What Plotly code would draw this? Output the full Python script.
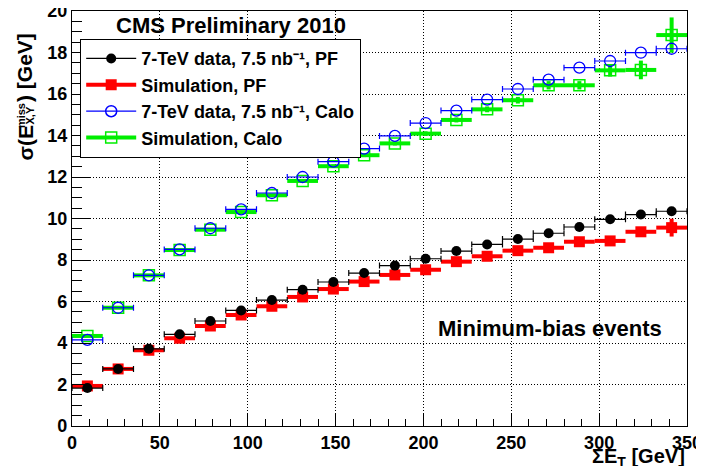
import plotly.graph_objects as go

# bin centres (GeV), bin half-width
sum_et = [8.75, 26.25, 43.75, 61.25, 78.75, 96.25, 113.75, 131.25, 148.75, 166.25,
          183.75, 201.25, 218.75, 236.25, 253.75, 271.25, 288.75, 306.25, 323.75, 341.25]
half_width = [8.75] * 20

pf_data = [1.83, 2.75, 3.72, 4.42, 5.06, 5.57, 6.07, 6.57, 6.94, 7.37,
           7.73, 8.06, 8.43, 8.75, 9.01, 9.29, 9.59, 9.96, 10.19, 10.35]
pf_sim = [1.93, 2.75, 3.65, 4.23, 4.82, 5.35, 5.77, 6.22, 6.60, 6.96,
          7.28, 7.53, 7.92, 8.18, 8.45, 8.59, 8.88, 8.92, 9.36, 9.56]
pf_sim_err = [0.05, 0.05, 0.05, 0.05, 0.05, 0.05, 0.05, 0.05, 0.05, 0.05,
              0.05, 0.05, 0.06, 0.07, 0.08, 0.09, 0.10, 0.12, 0.15, 0.43]
calo_data = [4.15, 5.70, 7.26, 8.51, 9.53, 10.44, 11.23, 12.00, 12.74, 13.37,
             13.98, 14.60, 15.20, 15.73, 16.24, 16.69, 17.27, 17.59, 17.99, 18.18]
calo_sim = [4.34, 5.70, 7.26, 8.48, 9.46, 10.31, 11.12, 11.81, 12.52, 13.05,
            13.62, 14.09, 14.75, 15.26, 15.70, 16.42, 16.42, 17.14, 17.16, 18.84]
calo_sim_err = [0.05, 0.05, 0.05, 0.05, 0.05, 0.06, 0.06, 0.07, 0.08, 0.09,
                0.10, 0.11, 0.12, 0.14, 0.16, 0.2, 0.2, 0.3, 0.45, 0.85]

names = ["7-TeV data, 7.5 nb⁻¹, PF", "Simulation, PF",
         "7-TeV data, 7.5 nb⁻¹, Calo", "Simulation, Calo"]

FONT = "Liberation Sans, Arial, sans-serif"
fig = go.Figure()

# data traces (drawing order: green, blue, red, black)
fig.add_trace(go.Scatter(
    x=sum_et, y=calo_sim, mode="markers", showlegend=False,
    marker=dict(symbol="square-open", size=11, color="#00ee00", line=dict(width=1.5)),
    error_x=dict(type="data", array=half_width, color="#00ee00", thickness=4, width=0),
    error_y=dict(type="data", array=calo_sim_err, color="#00ee00", thickness=4, width=0)))
fig.add_trace(go.Scatter(
    x=sum_et, y=calo_data, mode="markers", showlegend=False,
    marker=dict(symbol="circle-open", size=11, color="#0000ff", line=dict(width=1.3)),
    error_x=dict(type="data", array=half_width, color="#0000ff", thickness=1.2, width=3)))
fig.add_trace(go.Scatter(
    x=sum_et, y=pf_sim, mode="markers", showlegend=False,
    marker=dict(symbol="square", size=11, color="#ff0000"),
    error_x=dict(type="data", array=half_width, color="#ff0000", thickness=4, width=0),
    error_y=dict(type="data", array=pf_sim_err, color="#ff0000", thickness=4, width=0)))
fig.add_trace(go.Scatter(
    x=sum_et, y=pf_data, mode="markers", showlegend=False,
    marker=dict(symbol="circle", size=10, color="#000000"),
    error_x=dict(type="data", array=half_width, color="#000000", thickness=1.2, width=3)))

# legend-only entries (line + marker as in the original)
leg_styles = [
    dict(color="#000000", lw=1.2, sym="circle", ms=10),
    dict(color="#ff0000", lw=4, sym="square", ms=11),
    dict(color="#0000ff", lw=1.2, sym="circle-open", ms=11),
    dict(color="#00ee00", lw=4, sym="square-open", ms=11),
]
for nm, st in zip(names, leg_styles):
    fig.add_trace(go.Scatter(
        x=[None], y=[None], mode="lines+markers", name=nm,
        line=dict(color=st["color"], width=st["lw"]),
        marker=dict(symbol=st["sym"], size=st["ms"], color=st["color"],
                    line=dict(width=1.5) if "open" in st["sym"] else None)))

axis_common = dict(
    showline=True, linecolor="black", linewidth=1.2, mirror=True,
    ticks="inside", tickcolor="black", tickwidth=1.2,
    showgrid=True, gridcolor="black", griddash="1px,2px", gridwidth=1,
    zeroline=False, automargin=False, ticklabeloverflow="allow",
    tickfont=dict(family=FONT, size=18, color="black", weight="bold"),
)

fig.update_xaxes(range=[0, 350], dtick=50, tick0=0, ticklen=13,
                 minor=dict(dtick=10, ticks="inside", ticklen=7, tickcolor="black", showgrid=False),
                 **axis_common)
fig.update_yaxes(range=[0, 20], dtick=2, tick0=0, ticklen=18,
                 minor=dict(dtick=0.5, ticks="inside", ticklen=10, tickcolor="black", showgrid=False),
                 **axis_common)

def bold(size):
    return dict(family=FONT, size=size, color="black", weight="bold")

# the page body adds an 8px margin; size the figure so the page does not scroll
fig.update_layout(
    width=688, height=458,
    margin=dict(l=64, r=9, t=3, b=40),
    plot_bgcolor="white", paper_bgcolor="white",
    font=dict(family=FONT, color="black"),
    showlegend=True,
    legend=dict(x=0.013, y=0.9325, xanchor="left", yanchor="top",
                bgcolor="white", bordercolor="black", borderwidth=1.2,
                font=bold(18), itemwidth=50, tracegroupgap=0),
    annotations=[
        dict(text="CMS Preliminary 2010", x=0.258, y=0.964, xref="paper", yref="paper",
             xanchor="center", yanchor="middle", showarrow=False, font=bold(22)),
        dict(text="Minimum-bias events", x=0.777, y=0.234, xref="paper", yref="paper",
             xanchor="center", yanchor="middle", showarrow=False, font=bold(22)),
        dict(text="ΣE<sub>T</sub> [GeV]", x=1.0, y=-0.075, xref="paper", yref="paper",
             xanchor="right", yanchor="middle", showarrow=False, font=bold(20)),
        # y-axis title: σ(E^miss_X,Y) [GeV] with stacked super/subscript
        dict(text="σ(E", x=-0.0764, y=0.6808, xref="paper", yref="paper",
             xanchor="center", yanchor="middle", showarrow=False, textangle=-90, font=bold(21)),
        dict(text="miss", x=-0.0829, y=0.7468, xref="paper", yref="paper",
             xanchor="center", yanchor="middle", showarrow=False, textangle=-90, font=bold(11)),
        dict(text="X,Y", x=-0.0667, y=0.7482, xref="paper", yref="paper",
             xanchor="center", yanchor="middle", showarrow=False, textangle=-90, font=bold(11)),
        dict(text=") [GeV]", x=-0.0764, y=0.8627, xref="paper", yref="paper",
             xanchor="center", yanchor="middle", showarrow=False, textangle=-90, font=bold(21)),
    ],
)

fig.write_html("out.html")
